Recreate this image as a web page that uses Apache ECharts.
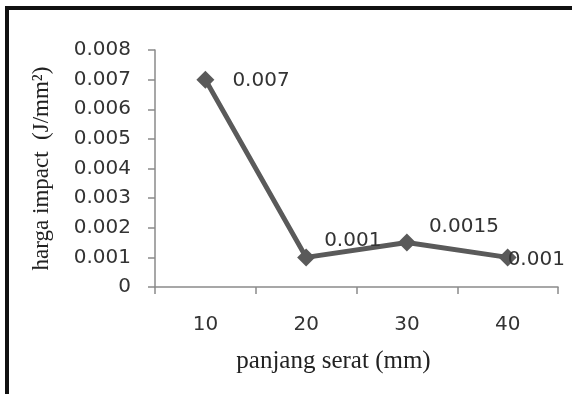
<!DOCTYPE html>
<html>
<head>
<meta charset="utf-8">
<script src="https://cdn.jsdelivr.net/npm/echarts@6/dist/echarts.min.js"></script>
<style>
  html, body { margin: 0; padding: 0; background: #fff; }
  #frame { position: absolute; left: 5px; top: 6px; width: 567px; height: 388px;
           border-top: 4px solid #111; border-left: 4px solid #111; box-sizing: border-box; }
  #chart { position: absolute; left: 0; top: 0; width: 572px; height: 394px; }
</style>
</head>
<body>
<div id="frame"></div>
<div id="chart"></div>
<script>
  // panjang serat (mm)
  var categories = ['10', '20', '30', '40'];
  // harga impact (J/mm2)
  var impactValues = [0.007, 0.001, 0.0015, 0.001];
  var valueLabels = ['0.007', '0.001', '0.0015', '0.001'];
  var labelOffsets = [[13, 1], [4, -17], [8, -16], [-14, 2]];

  var seriesData = impactValues.map(function (v, i) {
    return {
      value: v,
      label: { show: true, position: 'right', offset: labelOffsets[i], formatter: valueLabels[i] }
    };
  });

  var myChart = echarts.init(document.getElementById('chart'));
  var chartsOption = {
    animation: false,
    grid: { left: 155, top: 50, right: 14, bottom: 107 },
    xAxis: {
      type: 'category',
      data: categories,
      boundaryGap: true,
      name: 'panjang serat (mm)',
      nameLocation: 'middle',
      nameGap: 62,
      nameTextStyle: { fontFamily: 'Liberation Serif', fontSize: 25, color: '#222', padding: [0, 46, 0, 0] },
      axisLine: { lineStyle: { color: '#8a8a8a', width: 1.5 } },
      axisTick: { show: true, length: 7, alignWithLabel: false, lineStyle: { color: '#8a8a8a', width: 1.5 } },
      axisLabel: { margin: 28, fontFamily: 'DejaVu Sans', fontSize: 20, color: '#333' },
      splitLine: { show: false }
    },
    yAxis: {
      type: 'value',
      min: 0,
      max: 0.008,
      interval: 0.001,
      name: 'harga impact  (J/mm²)',
      nameLocation: 'middle',
      nameRotate: 90,
      nameGap: 102,
      nameTextStyle: { fontFamily: 'Liberation Serif', fontSize: 23, color: '#222' },
      axisLine: { show: true, lineStyle: { color: '#8a8a8a', width: 1.5 } },
      axisTick: { show: true, length: 7, lineStyle: { color: '#8a8a8a', width: 1.5 } },
      axisLabel: {
        margin: 24, fontFamily: 'DejaVu Sans', fontSize: 20, color: '#333',
        formatter: function (v) { return v === 0 ? '0' : v.toFixed(3); }
      },
      splitLine: { show: false }
    },
    series: [
      {
        type: 'line',
        data: seriesData,
        symbol: 'diamond',
        symbolSize: 18,
        lineStyle: { color: '#5a5a5a', width: 5 },
        itemStyle: { color: '#5a5a5a' },
        label: { fontFamily: 'DejaVu Sans', fontSize: 20, color: '#333' }
      }
    ]
  };
  chartsOption && myChart.setOption(chartsOption, true);
</script>
</body>
</html>
